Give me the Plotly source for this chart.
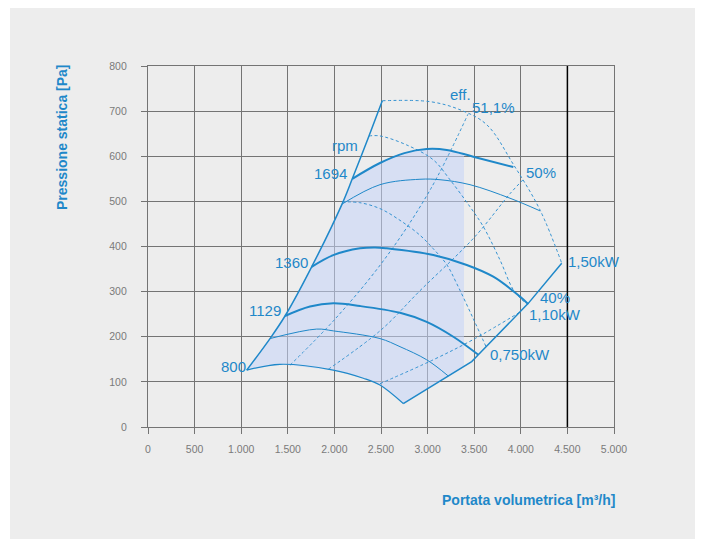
import plotly.graph_objects as go

# ---------------- data ----------------
x_ticks = [0, 500, 1000, 1500, 2000, 2500, 3000, 3500, 4000, 4500, 5000]
x_tick_text = ["0", "500", "1.000", "1.500", "2.000", "2.500", "3.000", "3.500", "4.000", "4.500", "5.000"]
y_ticks = [0, 100, 200, 300, 400, 500, 600, 700, 800]
y_tick_text = ["0", "100", "200", "300", "400", "500", "600", "700", "800"]

# left boundary
left_x = [1059, 1309, 1470, 1756, 2082, 2192, 2371, 2514]
left_y = [126, 196, 246, 355, 494, 550, 645, 723]

# right boundary
right_x = [2739, 3222, 3473, 3544, 4080, 4439]
right_y = [52, 113, 145, 160, 274, 363]

# rpm curves
rpm1694_x = [2192, 2489, 2750, 2990, 3205, 3490, 3920]
rpm1694_y = [550, 585, 607, 616, 614, 599, 576]
rpm1530_x = [2082, 2489, 2918, 3133, 3455, 3884, 4206]
rpm1530_y = [494, 537, 549, 548, 537, 507, 479]
rpm1360_x = [1756, 1988, 2275, 2436, 2561, 3061, 3420, 3705, 3991, 4080]
rpm1360_y = [355, 381, 396, 398, 396, 381, 359, 333, 289, 272]
rpm1129_x = [1470, 1738, 1988, 2275, 2704, 2990, 3276, 3544]
rpm1129_y = [246, 267, 274, 268, 253, 233, 200, 160]
rpm1000_x = [1309, 1810, 1988, 2489, 2704, 2990, 3222]
rpm1000_y = [196, 217, 213, 196, 178, 149, 113]
rpm800_x = [1059, 1416, 1988, 2310, 2489, 2739]
rpm800_y = [126, 139, 126, 108, 93, 52]

# dashed curves
dash_top_x = [2514, 3026, 3348, 3634, 3920, 4206, 4439]
dash_top_y = [723, 721, 703, 670, 582, 481, 363]
dash_a_x = [2371, 2489, 2776, 3061, 3240, 3455, 3598, 3777, 3920, 4030]
dash_a_y = [645, 645, 625, 592, 548, 488, 444, 370, 304, 278]
dash_b_x = [2082, 2275, 2489, 2704, 2918, 3061, 3205, 3312, 3490, 3627]
dash_b_y = [499, 497, 484, 458, 425, 395, 360, 318, 240, 178]
eff511_x = [1524, 2006, 2539, 3026, 3433]
eff511_y = [137, 239, 372, 525, 693]
eff50_x = [1935, 2500, 2918, 3500, 3884, 4024]
eff50_y = [128, 215, 302, 420, 517, 548]
eff40_x = [2489, 3061, 3500, 4010]
eff40_y = [96, 149, 195, 257]

# shaded operating area outline
shade_x = [1059, 1309, 1470, 1756, 2082, 2192, 2489, 2750, 2990, 3205, 3390, 3390, 2739, 2489, 2310, 1988, 1416, 1059]
shade_y = [126, 196, 246, 355, 494, 550, 585, 607, 616, 614, 605, 135, 52, 93, 108, 126, 139, 126]

ref_x = 4500

BLUE = "#1f88c9"
GRID = "#747474"
FONT = "Liberation Sans, Arial, sans-serif"

# page body has an 8px margin: plot area sits at screen x 148..614, y 66..427
OFF = 8
W, H = 703 - OFF, 539 - OFF
L, T = 148 - OFF, 66 - OFF
PW, PH = 466, 361


def px(sx):
    return (sx - 148) / PW


def py(sy):
    return (427 - sy) / PH


fig = go.Figure()

fig.add_trace(go.Scatter(x=shade_x, y=shade_y, mode="lines", fill="toself",
                         fillcolor="rgba(196,212,248,0.55)", line=dict(width=0),
                         hoverinfo="skip", showlegend=False))


def solid(x, y, w, shape="spline"):
    fig.add_trace(go.Scatter(x=x, y=y, mode="lines", line=dict(color=BLUE, width=w, shape=shape),
                             showlegend=False, hoverinfo="skip"))


def dashed(x, y, shape="spline"):
    fig.add_trace(go.Scatter(x=x, y=y, mode="lines",
                             line=dict(color="#3593d2", width=1, dash="3px,2.5px", shape=shape),
                             showlegend=False, hoverinfo="skip"))


dashed(dash_top_x, dash_top_y)
dashed(dash_a_x, dash_a_y)
dashed(dash_b_x, dash_b_y)
dashed(eff511_x, eff511_y)
dashed(eff50_x, eff50_y)
dashed(eff40_x, eff40_y)

solid(left_x, left_y, 1.5)
solid(right_x, right_y, 1.5, shape="linear")
solid(rpm1694_x, rpm1694_y, 2)
solid(rpm1530_x, rpm1530_y, 1)
solid(rpm1360_x, rpm1360_y, 2)
solid(rpm1129_x, rpm1129_y, 2)
solid(rpm1000_x, rpm1000_y, 1)
solid(rpm800_x, rpm800_y, 1.2)

labels = [
    ("rpm", 2264, 624, "right"),
    ("1694", 2146, 561, "right"),
    ("1360", 1727, 364, "right"),
    ("1129", 1435, 259, "right"),
    ("800", 1059, 135, "right"),
    ("eff.", 3230, 736, "left"),
    ("51,1%", 3466, 709, "left"),
    ("50%", 4048, 564, "left"),
    ("1,50kW", 4492, 366, "left"),
    ("40%", 4198, 286, "left"),
    ("1,10kW", 4080, 250, "left"),
    ("0,750kW", 3662, 161, "left"),
]
annotations = []
for t, x, y, anc in labels:
    annotations.append(dict(x=x, y=y, xref="x", yref="y", text=t, showarrow=False,
                            xanchor=anc, yanchor="middle", borderpad=0,
                            font=dict(family=FONT, size=15, color=BLUE)))

annotations.append(dict(x=px(617), y=py(500), xref="paper", yref="paper",
                        text="<b>Portata volumetrica [m³/h]</b>", showarrow=False,
                        xanchor="right", yanchor="middle",
                        font=dict(family=FONT, size=14, color=BLUE)))
annotations.append(dict(x=px(62), y=py(137), xref="paper", yref="paper",
                        text="<b>Pressione statica [Pa]</b>", showarrow=False, textangle=-90,
                        xanchor="center", yanchor="middle",
                        font=dict(family=FONT, size=14, color=BLUE)))

shapes = [
    dict(type="rect", xref="paper", yref="paper", layer="below",
         x0=px(10), x1=px(700), y0=py(545), y1=py(8),
         fillcolor="#ededed", line=dict(width=0)),
    dict(type="line", xref="x", yref="y", x0=ref_x, x1=ref_x, y0=0, y1=800,
         line=dict(color="black", width=1.5), layer="above"),
]

axis_common = dict(showgrid=True, gridcolor=GRID, gridwidth=1.2, showline=True, linecolor=GRID,
                   linewidth=1.2, mirror=True, ticks="outside", ticklen=6, tickcolor=GRID,
                   tickwidth=1.2, zeroline=False,
                   tickfont=dict(family=FONT, size=10.5, color="#7a7a7a"))

fig.update_layout(
    width=W, height=H, autosize=False,
    margin=dict(l=L, r=W - L - PW, t=T, b=H - T - PH),
    paper_bgcolor="white", plot_bgcolor="rgba(0,0,0,0)",
    xaxis=dict(range=[0, 5000], tickvals=x_ticks, ticktext=x_tick_text, ticklabelstandoff=6, **axis_common),
    yaxis=dict(range=[0, 800], tickvals=y_ticks, ticktext=y_tick_text, ticklabelstandoff=12, **axis_common),
    annotations=annotations, shapes=shapes, showlegend=False,
)

fig.write_html("out.html")
